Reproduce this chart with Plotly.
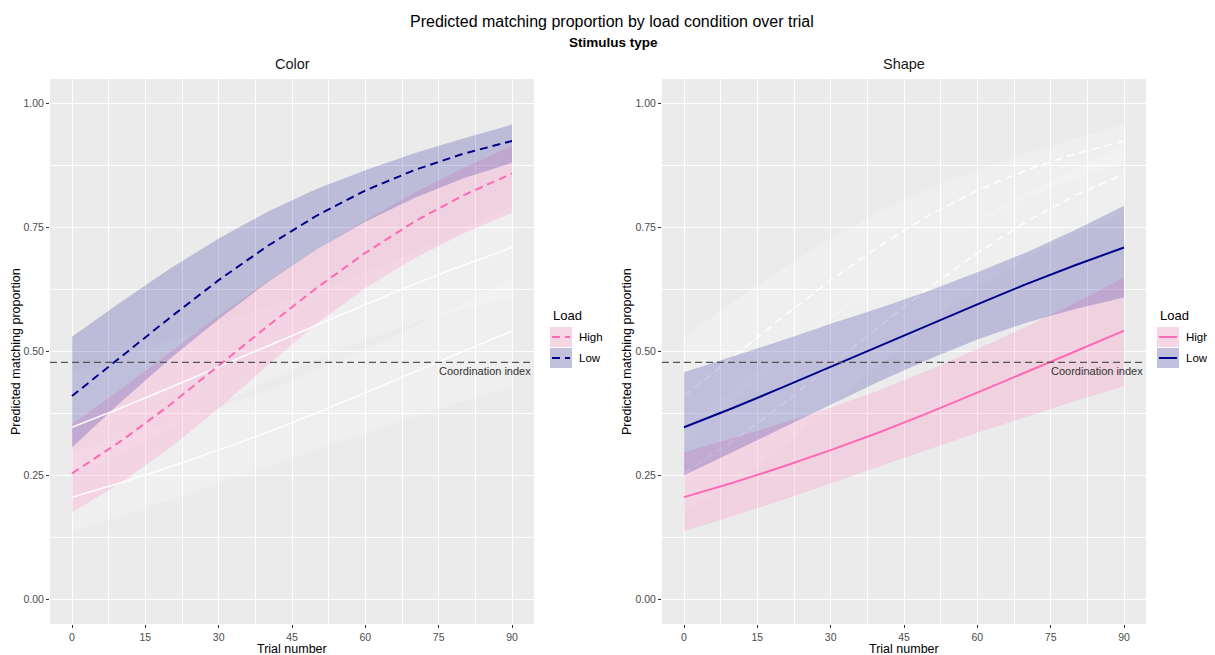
import plotly.graph_objects as go

# ---------------- data ----------------
trials = [0, 10, 20, 30, 40, 50, 60, 70, 80, 90]

# Stimulus type: Color (dashed)
color_high    = [0.254, 0.319, 0.392, 0.471, 0.551, 0.628, 0.699, 0.762, 0.815, 0.859]
color_high_lo = [0.175, 0.235, 0.305, 0.385, 0.472, 0.556, 0.628, 0.688, 0.738, 0.780]
color_high_hi = [0.353, 0.424, 0.498, 0.572, 0.642, 0.706, 0.765, 0.820, 0.870, 0.915]
color_low     = [0.410, 0.489, 0.568, 0.644, 0.713, 0.774, 0.825, 0.866, 0.899, 0.925]
color_low_lo  = [0.306, 0.398, 0.485, 0.565, 0.640, 0.706, 0.762, 0.810, 0.849, 0.881]
color_low_hi  = [0.530, 0.600, 0.667, 0.728, 0.782, 0.828, 0.866, 0.900, 0.930, 0.958]

# Stimulus type: Shape (solid)
shape_high    = [0.206, 0.235, 0.267, 0.301, 0.337, 0.376, 0.417, 0.458, 0.500, 0.542]
shape_high_lo = [0.137, 0.168, 0.200, 0.234, 0.268, 0.302, 0.336, 0.368, 0.400, 0.430]
shape_high_hi = [0.296, 0.325, 0.355, 0.387, 0.422, 0.462, 0.505, 0.550, 0.598, 0.649]
shape_low     = [0.347, 0.386, 0.427, 0.469, 0.512, 0.554, 0.595, 0.636, 0.674, 0.710]
shape_low_lo  = [0.250, 0.297, 0.345, 0.393, 0.440, 0.484, 0.524, 0.558, 0.586, 0.609]
shape_low_hi  = [0.458, 0.490, 0.522, 0.556, 0.588, 0.622, 0.660, 0.700, 0.745, 0.794]

coordination_index = 0.478
x_ticks = [0, 15, 30, 45, 60, 75, 90]
y_ticks = [0.0, 0.25, 0.5, 0.75, 1.0]
y_tick_labels = ["0.00", "0.25", "0.50", "0.75", "1.00"]
load_levels = ["High", "Low"]
panels = ["Color", "Shape"]

# ---------------- styling ----------------
W, H = 1215, 655
OFF = 8                      # page body margin of the html page
FW, FH = W - OFF, H - OFF    # figure size so it fits the window
PINK = "#FF69B4"
NAVY = "#00008B"
PINK_FILL = "rgba(255,105,180,0.2)"
NAVY_FILL = "rgba(0,0,139,0.2)"
GHOST_FILL = "rgba(255,255,255,0.22)"
GHOST_LINE = "rgba(255,255,255,0.9)"
FONT = "Liberation Sans, Arial, sans-serif"
DASH = "8px,5px"


def px(x):
    return (x - OFF) / FW


def py(y):
    return 1 - (y - OFF) / FH


fig = go.Figure()


def ribbon(lo, hi, fill, xa, ya):
    fig.add_trace(go.Scatter(
        x=trials + trials[::-1], y=hi + lo[::-1], fill="toself", fillcolor=fill,
        mode="lines", line=dict(width=0), hoverinfo="skip", showlegend=False,
        xaxis=xa, yaxis=ya))


def line(vals, color, dash, width, xa, ya):
    fig.add_trace(go.Scatter(
        x=trials, y=vals, mode="lines", line=dict(color=color, dash=dash, width=width),
        hoverinfo="skip", showlegend=False, xaxis=xa, yaxis=ya))


# Left panel (Color): shape data in white behind
ribbon(shape_high_lo, shape_high_hi, GHOST_FILL, "x", "y")
ribbon(shape_low_lo, shape_low_hi, GHOST_FILL, "x", "y")
ribbon(color_high_lo, color_high_hi, PINK_FILL, "x", "y")
ribbon(color_low_lo, color_low_hi, NAVY_FILL, "x", "y")
line(shape_high, GHOST_LINE, "solid", 1.6, "x", "y")
line(shape_low, GHOST_LINE, "solid", 1.6, "x", "y")
line(color_high, PINK, DASH, 2, "x", "y")
line(color_low, NAVY, DASH, 2, "x", "y")

# Right panel (Shape): color data in white behind
ribbon(color_high_lo, color_high_hi, GHOST_FILL, "x2", "y2")
ribbon(color_low_lo, color_low_hi, GHOST_FILL, "x2", "y2")
line(color_high, GHOST_LINE, DASH, 1.6, "x2", "y2")
line(color_low, GHOST_LINE, DASH, 1.6, "x2", "y2")
ribbon(shape_high_lo, shape_high_hi, PINK_FILL, "x2", "y2")
ribbon(shape_low_lo, shape_low_hi, NAVY_FILL, "x2", "y2")
line(shape_high, PINK, "solid", 2, "x2", "y2")
line(shape_low, NAVY, "solid", 2, "x2", "y2")

xa_common = dict(
    range=[-4.5, 94.5], tickvals=x_ticks, ticks="outside", ticklen=3, tickcolor="#333333",
    tickwidth=1, tickfont=dict(family=FONT, size=10.5, color="#4D4D4D"),
    showgrid=True, gridcolor="white", gridwidth=1.1, zeroline=False, showline=False,
    minor=dict(tick0=0, dtick=7.5, showgrid=True, gridcolor="white", gridwidth=0.5, ticks=""),
)
ya_common = dict(
    range=[-0.05, 1.05], tickvals=y_ticks, ticktext=y_tick_labels, ticks="outside",
    ticklen=3, tickcolor="#333333", tickwidth=1,
    tickfont=dict(family=FONT, size=10.5, color="#4D4D4D"),
    showgrid=True, gridcolor="white", gridwidth=1.1, zeroline=False, showline=False,
    minor=dict(tick0=0, dtick=0.125, showgrid=True, gridcolor="white", gridwidth=0.5, ticks=""),
    domain=[py(624), py(79)],
)

fig.update_layout(
    width=FW, height=FH, margin=dict(l=0, r=0, t=0, b=0), autosize=False,
    paper_bgcolor="white", plot_bgcolor="#EBEBEB", showlegend=False,
    font=dict(family=FONT, color="black"),
    xaxis=dict(domain=[px(50), px(534)], anchor="y", **xa_common),
    yaxis=dict(anchor="x", **ya_common),
    xaxis2=dict(domain=[px(662), px(1146)], anchor="y2", **xa_common),
    yaxis2=dict(anchor="x2", **ya_common),
)

shapes = []
annotations = []

# coordination index line + label
for xr, yr in (("x", "y"), ("x2", "y2")):
    shapes.append(dict(type="line", xref=xr, yref=yr, x0=-4.5, x1=94.5,
                       y0=coordination_index, y1=coordination_index,
                       line=dict(color="#555555", width=1.2, dash="7px,4px"), layer="above"))
    annotations.append(dict(xref=xr, yref=yr, x=94.3, y=coordination_index, xanchor="right",
                            yanchor="top", yshift=-1, showarrow=False, text="Coordination index",
                            font=dict(family=FONT, size=11, color="#333333")))

# titles
annotations.append(dict(xref="paper", yref="paper", x=px(612), y=py(22), showarrow=False,
                        text="Predicted matching proportion by load condition over trial",
                        font=dict(family=FONT, size=16, color="black"),
                        xanchor="center", yanchor="middle"))
annotations.append(dict(xref="paper", yref="paper", x=px(613), y=py(43), showarrow=False,
                        text="<b>Stimulus type</b>", font=dict(family=FONT, size=13.5, color="black"),
                        xanchor="center", yanchor="middle"))

panel_centers = [292, 904]
y_title_x = [16, 627]
for name, cx, yx in zip(panels, panel_centers, y_title_x):
    annotations.append(dict(xref="paper", yref="paper", x=px(cx), y=py(64), showarrow=False,
                            text=name, font=dict(family=FONT, size=14.5, color="#1A1A1A"),
                            xanchor="center", yanchor="middle"))
    annotations.append(dict(xref="paper", yref="paper", x=px(cx), y=py(649), showarrow=False,
                            text="Trial number", font=dict(family=FONT, size=12.5, color="black"),
                            xanchor="center", yanchor="middle"))
    annotations.append(dict(xref="paper", yref="paper", x=px(yx), y=py(352), showarrow=False,
                            text="Predicted matching proportion", textangle=-90,
                            font=dict(family=FONT, size=12.5, color="black"),
                            xanchor="center", yanchor="middle"))

# legends (one per panel)
legend_specs = [
    dict(x0=550, dash=DASH),
    dict(x0=1157, dash="solid"),
]
key_fills = [PINK_FILL, NAVY_FILL]
key_lines = [PINK, NAVY]
for spec in legend_specs:
    x0 = spec["x0"]
    annotations.append(dict(xref="paper", yref="paper", x=px(x0 + 1), y=py(315), showarrow=False,
                            text="Load", font=dict(family=FONT, size=13, color="black"),
                            xanchor="left", yanchor="middle"))
    for i, lvl in enumerate(load_levels):
        top = 327 + i * 21
        bot = top + 20
        shapes.append(dict(type="rect", xref="paper", yref="paper", x0=px(x0), x1=px(x0 + 22),
                           y0=py(bot), y1=py(top), fillcolor="#F2F2F2", line=dict(width=0)))
        shapes.append(dict(type="rect", xref="paper", yref="paper", x0=px(x0), x1=px(x0 + 22),
                           y0=py(bot), y1=py(top), fillcolor=key_fills[i], line=dict(width=0)))
        ymid = (top + bot) / 2
        shapes.append(dict(type="line", xref="paper", yref="paper", x0=px(x0 + 2), x1=px(x0 + 20),
                           y0=py(ymid), y1=py(ymid),
                           line=dict(color=key_lines[i], width=2, dash=spec["dash"])))
        annotations.append(dict(xref="paper", yref="paper", x=px(x0 + 27), y=py(ymid),
                                showarrow=False, text=lvl,
                                font=dict(family=FONT, size=11.5, color="black"),
                                xanchor="left", yanchor="middle"))

fig.update_layout(shapes=shapes, annotations=annotations)
fig.write_html("out.html")
